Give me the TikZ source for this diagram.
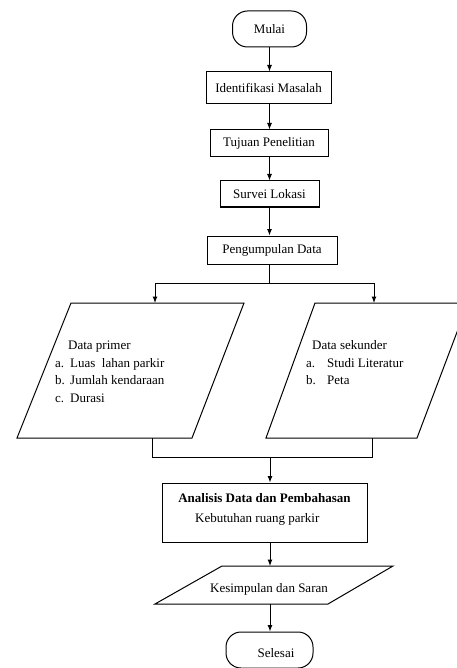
\documentclass[tikz,border=0pt]{standalone}
\usepackage{fontspec}
\setmainfont{Liberation Serif}
\usetikzlibrary{arrows.meta}
\begin{document}
\begin{tikzpicture}[x=1pt,y=-1pt,
  every node/.style={font=\fontsize{13}{15}\selectfont, inner sep=0pt},
  ln/.style={line width=1pt},
  arr/.style={ln,-{Latex[length=6.5pt,width=5pt]}},
  procbox/.style n args={2}{draw, ln, minimum width=#1, minimum height=#2},
  termbox/.style n args={2}{draw, ln, rounded corners=15pt, minimum width=#1, minimum height=#2},
  lbl/.style={anchor=base west},
  clbl/.style={anchor=base}
]
\useasboundingbox (0,0) rectangle (456,668);

% process boxes
\node[termbox={74pt}{36pt}] (mulai) at (269.5,29) {Mulai};
\node[procbox={125pt}{32pt}] (idm) at (268.5,88) {Identifikasi Masalah};
\node[procbox={118pt}{27pt}] (tuj) at (269,143.5) {Tujuan Penelitian};
\node[procbox={99pt}{26pt}] (sur) at (269.5,194) {Survei Lokasi};
\node[procbox={130pt}{28pt}] (pen) at (272,250) {Pengumpulan Data};

% connectors top
\coordinate (ax) at (269.5,0);
\draw[arr] (ax |- mulai.south) -- (ax |- idm.north);
\draw[arr] (ax |- idm.south) -- (ax |- tuj.north);
\draw[arr] (ax |- tuj.south) -- (ax |- sur.north);
\draw[arr] (ax |- sur.south) -- (ax |- pen.north);

% split
\coordinate (split) at (269.5,283);
\coordinate (p1in) at (155,303);
\coordinate (p2in) at (374,303);
\draw[ln] (ax |- pen.south) -- (split);
\draw[arr] (split) -| (p1in);
\draw[arr] (split) -| (p2in);

% left parallelogram
\coordinate (p1a) at (71,303);
\coordinate (p1b) at (244,303);
\coordinate (p1c) at (192,438);
\coordinate (p1d) at (17,438);
\draw[ln] (p1a) -- (p1b) -- (p1c) -- (p1d) -- cycle;
\node[lbl] (dp) at (68,349) {Data primer};
\node[lbl] (dpa) at (55,367) {a.};
\node[lbl] (dpat) at (70,367) {Luas\ \ lahan parkir};
\node[lbl] (dpb) at (55,384) {b.};
\node[lbl] (dpbt) at (70,384) {Jumlah kendaraan};
\node[lbl] (dpc) at (55,402) {c.};
\node[lbl] (dpct) at (70,402) {Durasi};

% right parallelogram
\coordinate (p2a) at (315,303);
\coordinate (p2b) at (468,303);
\coordinate (p2c) at (417,438);
\coordinate (p2d) at (266,438);
\draw[ln] (p2a) -- (p2b) -- (p2c) -- (p2d) -- cycle;
\node[lbl] (ds) at (312,349) {Data sekunder};
\node[lbl] (dsa) at (306,367) {a.};
\node[lbl] (dsat) at (327,367) {Studi Literatur};
\node[lbl] (dsb) at (306,384) {b.};
\node[lbl] (dsbt) at (327,384) {Peta};

% join
\coordinate (j1) at (152,438);
\coordinate (j2) at (372,438);
\coordinate (j1b) at (152,457);
\coordinate (j2b) at (372,457);
\coordinate (join) at (270,457);
\draw[ln] (j1) -- (j1b) -- (j2b) -- (j2);

% analysis box
\node[procbox={205pt}{59pt}] (ana) at (264.5,512.5) {};
\node[clbl] (anat) at (264.5,502.5) {\bfseries Analisis Data dan Pembahasan};
\node[lbl] (anak) at (195,522.5) {Kebutuhan ruang parkir};
\draw[arr] (join) -- (join |- ana.north);

% conclusion parallelogram
\coordinate (k1) at (222,566);
\coordinate (k2) at (393,566);
\coordinate (k3) at (328,604);
\coordinate (k4) at (155,604);
\coordinate (kin) at (270,566);
\coordinate (kout) at (270,604);
\draw[ln] (k1) -- (k2) -- (k3) -- (k4) -- cycle;
\node[clbl] (kes) at (269,592) {Kesimpulan dan Saran};
\draw[arr] (join |- ana.south) -- (kin);

% end
\node[termbox={87pt}{36pt}] (sel) at (269.5,650) {};
\node[clbl] (selt) at (276,657) {Selesai};
\draw[arr] (kout) -- (kout |- sel.north);
\end{tikzpicture}
\end{document}
